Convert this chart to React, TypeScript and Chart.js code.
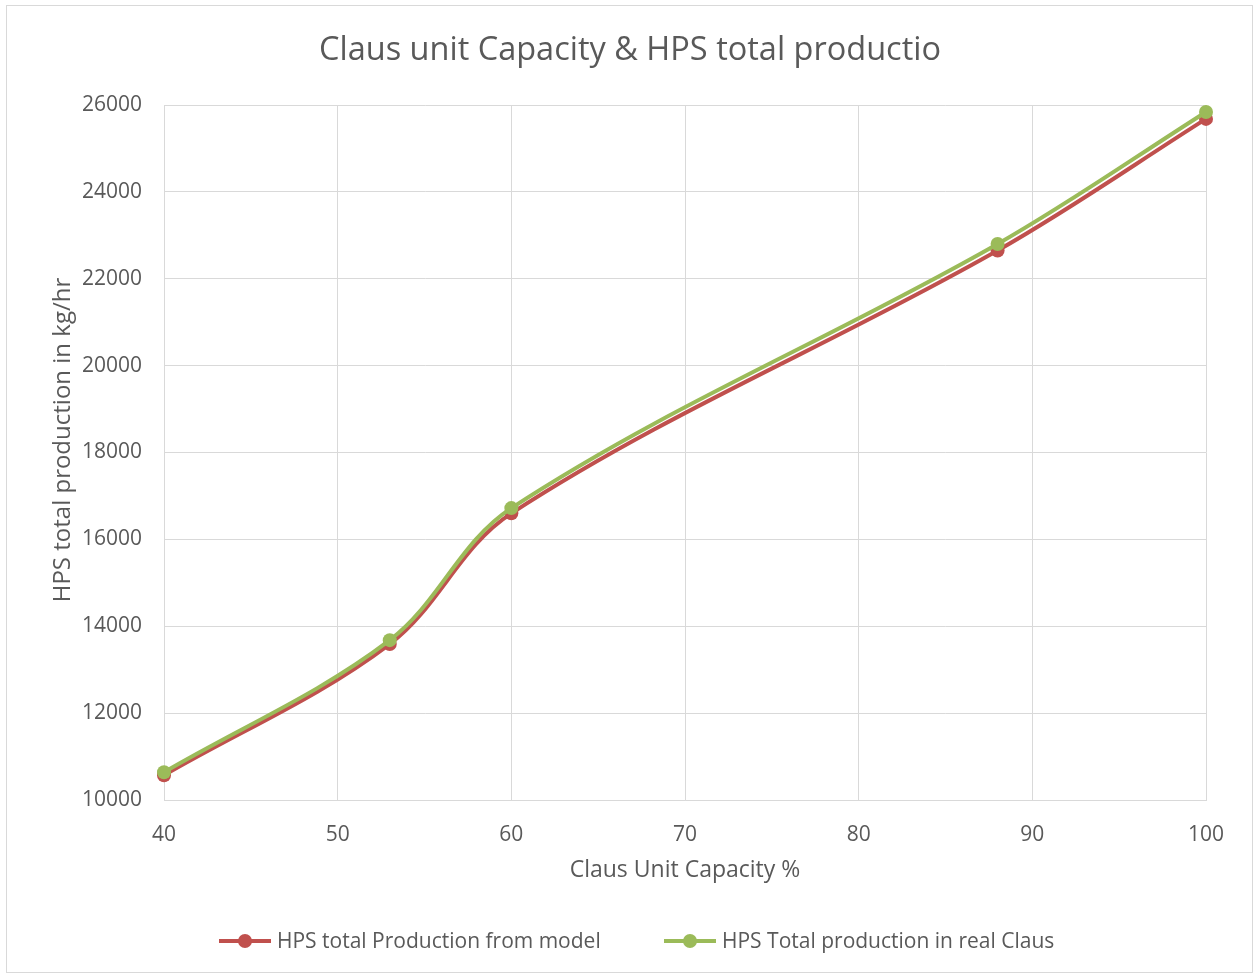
import React, { useEffect, useRef } from "react";
import Chart from "chart.js/auto";

const capacity = [40, 53, 60, 88, 100];
const modelProduction = [10570, 13590, 16600, 22650, 25680];
const realProduction = [10640, 13680, 16720, 22800, 25840];
const yTicks = [10000, 12000, 14000, 16000, 18000, 20000, 22000, 24000, 26000];
const xTicks = [40, 50, 60, 70, 80, 90, 100];

const titleText = "Claus unit Capacity & HPS total productio";
const xTitle = "Claus Unit Capacity %";
const yTitle = "HPS total production in kg/hr";
const seriesNames = ["HPS total Production from model", "HPS Total production in real Claus"];
const RED = "#C0504D";
const GREEN = "#9BBB59";
const FONT = "'Open Sans', sans-serif";

const decor = {
  id: "decor",
  beforeDraw(chart: any) {
    const ctx = chart.ctx;
    ctx.save();
    ctx.fillStyle = "#ffffff";
    ctx.fillRect(0, 0, chart.width, chart.height);
    ctx.strokeStyle = "#d9d9d9";
    ctx.lineWidth = 1;
    ctx.strokeRect(6.5, 5.5, 1246, 967);
    ctx.restore();
  },
  afterDraw(chart: any) {
    const ctx = chart.ctx;
    const ca = chart.chartArea;
    ctx.save();
    ctx.fillStyle = "#595959";
    ctx.textAlign = "center";
    ctx.textBaseline = "middle";
    ctx.font = `32.5px ${FONT}`;
    ctx.fillText(titleText, 630, 51);
    ctx.font = `23px ${FONT}`;
    ctx.fillText(xTitle, (ca.left + ca.right) / 2, 870);
    ctx.save();
    ctx.translate(63, 440);
    ctx.rotate(-Math.PI / 2);
    ctx.font = `24px ${FONT}`;
    ctx.fillText(yTitle, 0, 0);
    ctx.restore();
    // legend
    const items = [
      { x: 219, color: RED, name: seriesNames[0] },
      { x: 664, color: GREEN, name: seriesNames[1] },
    ];
    const ly = 941;
    ctx.font = `21px ${FONT}`;
    ctx.textAlign = "left";
    for (const it of items) {
      ctx.strokeStyle = it.color;
      ctx.lineWidth = 4;
      ctx.beginPath();
      ctx.moveTo(it.x, ly);
      ctx.lineTo(it.x + 52, ly);
      ctx.stroke();
      ctx.fillStyle = it.color;
      ctx.beginPath();
      ctx.arc(it.x + 26, ly, 7, 0, Math.PI * 2);
      ctx.fill();
      ctx.fillStyle = "#595959";
      ctx.fillText(it.name, it.x + 58, ly + 1);
    }
    ctx.restore();
  },
};

export default function App() {
  const ref = useRef<HTMLCanvasElement>(null);
  useEffect(() => {
    if (!ref.current) return;
    const chart = new Chart(ref.current, {
      type: "line",
      data: {
        datasets: [
          {
            label: seriesNames[0],
            data: capacity.map((x, i) => ({ x, y: modelProduction[i] })),
            borderColor: RED,
            backgroundColor: RED,
            borderWidth: 4,
            pointRadius: 7,
            pointBorderWidth: 0,
            pointBackgroundColor: RED,
            tension: 0.35,
            clip: false,
            order: 2,
          },
          {
            label: seriesNames[1],
            data: capacity.map((x, i) => ({ x, y: realProduction[i] })),
            borderColor: GREEN,
            backgroundColor: GREEN,
            borderWidth: 4,
            pointRadius: 7,
            pointBorderWidth: 0,
            pointBackgroundColor: GREEN,
            tension: 0.35,
            clip: false,
            order: 1,
          },
        ],
      },
      options: {
        responsive: false,
        animation: false,
        layout: { padding: { top: 105, right: 49, left: 0, bottom: 0 } },
        plugins: { legend: { display: false }, title: { display: false }, tooltip: { enabled: false } },
        scales: {
          x: {
            type: "linear",
            min: 40,
            max: 100,
            afterBuildTicks: (s: any) => {
              s.ticks = xTicks.map((v) => ({ value: v }));
            },
            afterFit: (s: any) => {
              s.height = 175;
            },
            grid: { color: "#d9d9d9", lineWidth: 1, drawTicks: false },
            border: { color: "#d9d9d9" },
            ticks: { color: "#595959", font: { family: FONT, size: 21 }, padding: 22, maxRotation: 0 },
          },
          y: {
            type: "linear",
            min: 10000,
            max: 26000,
            afterBuildTicks: (s: any) => {
              s.ticks = yTicks.map((v) => ({ value: v }));
            },
            afterFit: (s: any) => {
              s.width = 164;
            },
            grid: { color: "#d9d9d9", lineWidth: 1, drawTicks: false },
            border: { color: "#d9d9d9" },
            ticks: {
              color: "#595959",
              font: { family: FONT, size: 21 },
              padding: 22,
              callback: (v: any) => String(v),
            },
          },
        },
      },
      plugins: [decor],
    });
    return () => chart.destroy();
  }, []);
  return (
    <div style={{ position: "absolute", left: 0, top: 0, width: 1255, height: 975 }}>
      <canvas ref={ref} width={1255} height={975} style={{ width: 1255, height: 975 }} />
    </div>
  );
}
